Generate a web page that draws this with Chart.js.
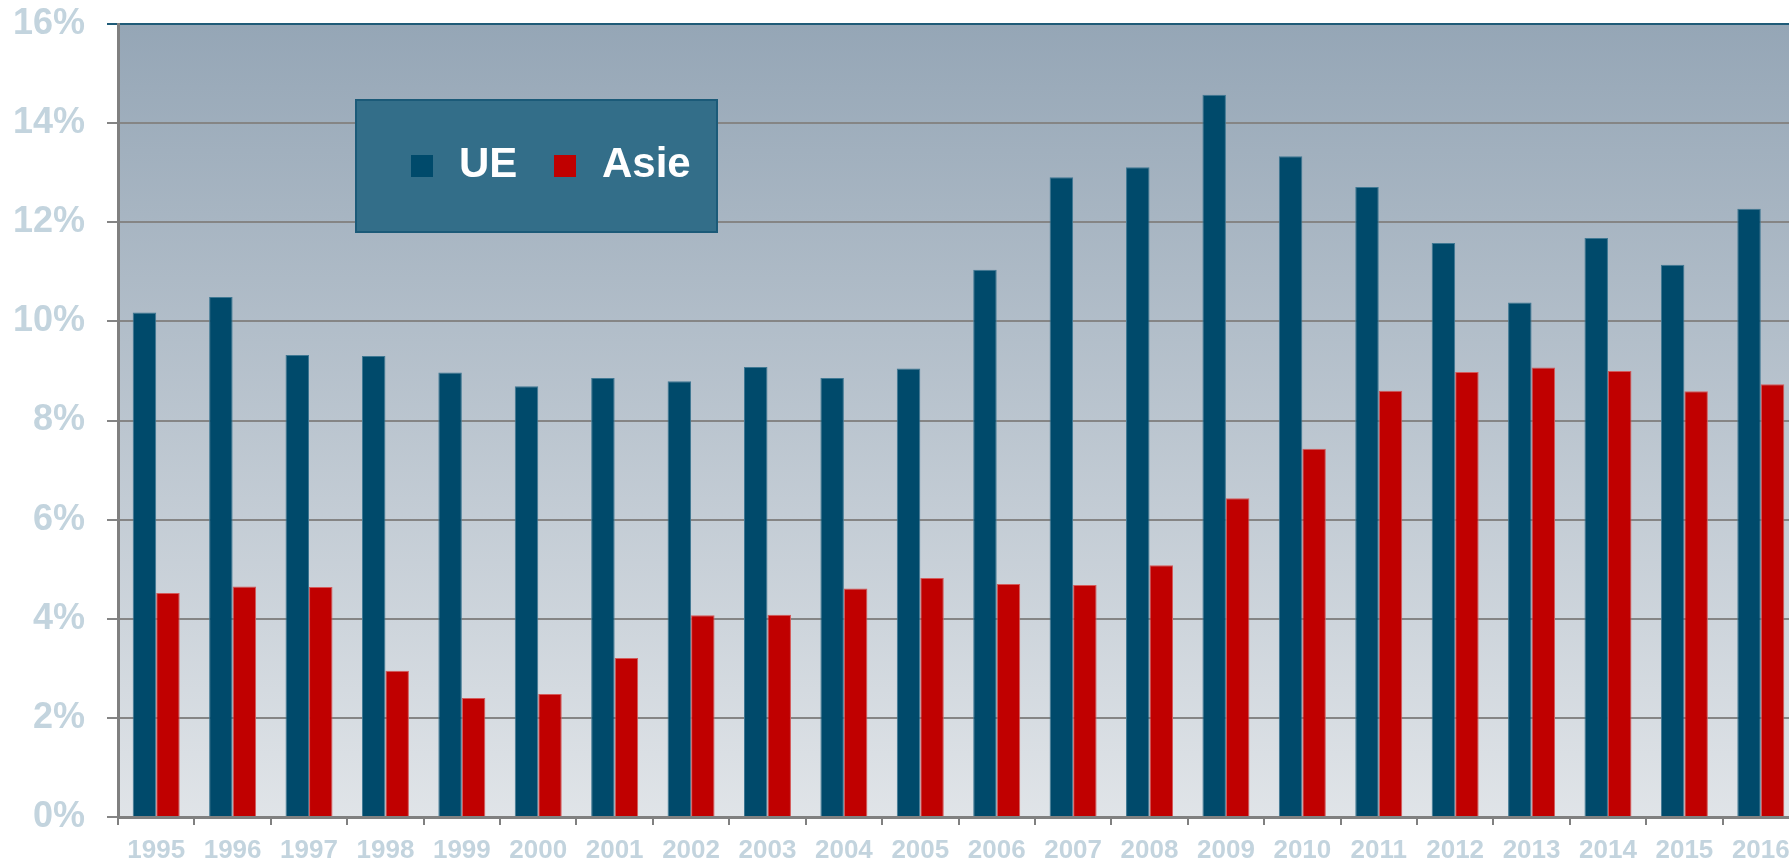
<!DOCTYPE html>
<html>
<head>
<meta charset="utf-8">
<script src="https://cdn.jsdelivr.net/npm/chart.js@4/dist/chart.umd.min.js"></script>
<style>
	html, body { margin: 0; padding: 0; background: #ffffff; overflow: hidden; }
	#wrap { position: relative; width: 1800px; height: 859px; }
</style>
</head>
<body>
<div id="wrap"><canvas id="myChart"></canvas></div>
<script>
// years on the x axis
var years = ["1995", "1996", "1997", "1998", "1999", "2000", "2001", "2002", "2003", "2004", "2005",
	"2006", "2007", "2008", "2009", "2010", "2011", "2012", "2013", "2014", "2015", "2016"];

// values in %
var ueValues = [10.18, 10.49, 9.32, 9.30, 8.97, 8.69, 8.86, 8.79, 9.08, 8.86, 9.05,
	11.04, 12.91, 13.11, 14.57, 13.33, 12.71, 11.58, 10.38, 11.68, 11.14, 12.27];
var asieValues = [4.52, 4.65, 4.64, 2.95, 2.40, 2.48, 3.21, 4.07, 4.08, 4.61, 4.82,
	4.70, 4.68, 5.08, 6.43, 7.43, 8.60, 8.98, 9.07, 9.00, 8.59, 8.73];

var yTicks = [0, 2, 4, 6, 8, 10, 12, 14, 16];

var fontFam = "'Liberation Sans', Arial, sans-serif";
var labelColor = "#c3d4de";

// gradient behind the bars
var plotBg = {
	id: "plotBg",
	beforeDraw: function (chart) {
		var a = chart.chartArea;
		var c = chart.ctx;
		var g = c.createLinearGradient(0, a.top, 0, a.bottom);
		g.addColorStop(0, "#95a6b6");
		g.addColorStop(1, "#e0e4e8");
		c.save();
		c.fillStyle = g;
		c.fillRect(a.left, a.top, a.right - a.left, a.bottom - a.top);
		c.restore();
	},
};

// legend box inside the plot
var boxLegend = {
	id: "boxLegend",
	afterDraw: function (chart) {
		var c = chart.ctx;
		c.save();
		c.fillStyle = "#336e89";
		c.fillRect(356, 100, 361, 132);
		c.strokeStyle = "#1b5a78";
		c.lineWidth = 2;
		c.strokeRect(356, 100, 361, 132);

		var xs = [411, 554];
		c.font = "bold 42px " + fontFam;
		c.textBaseline = "alphabetic";
		chart.data.datasets.forEach(function (ds, i) {
			c.fillStyle = ds.backgroundColor;
			c.fillRect(xs[i], 155, 22, 22);
			c.fillStyle = "#ffffff";
			c.fillText(ds.label, xs[i] + 48, 177);
		});
		c.restore();
	},
};

var ctx = document.getElementById("myChart").getContext("2d");
var myChart = new Chart(ctx, {
	type: "bar",
	data: {
		labels: years,
		datasets: [
			{
				label: "UE",
				data: ueValues,
				backgroundColor: "#004a6b",
				borderColor: "#3f7893",
				borderWidth: 1,
			},
			{
				label: "Asie",
				data: asieValues,
				backgroundColor: "#c00000",
				borderColor: "#d45a5a",
				borderWidth: 1,
			},
		],
	},
	plugins: [plotBg, boxLegend],
	options: {
		responsive: true,
		maintainAspectRatio: false,
		animation: false,
		devicePixelRatio: 1,
		layout: { padding: { top: 24, right: 1, left: 0, bottom: 0 } },
		datasets: { bar: { categoryPercentage: 0.615, barPercentage: 1.0 } },
		plugins: {
			legend: { display: false },
			tooltip: { enabled: false },
		},
		scales: {
			x: {
				offset: true,
				grid: {
					offset: true,
					drawOnChartArea: false,
					drawTicks: true,
					tickLength: 8,
					color: "#808080",
					lineWidth: 2,
				},
				border: { color: "#808080", width: 3 },
				ticks: {
					color: labelColor,
					padding: 10,
					maxRotation: 0,
					autoSkip: false,
					font: { family: fontFam, size: 26, weight: "bold" },
				},
				afterFit: function (scale) {
					scale.height = 42;
				},
			},
			y: {
				min: 0,
				max: 16,
				afterBuildTicks: function (scale) {
					scale.ticks = yTicks.map(function (v) { return { value: v }; });
				},
				grid: {
					color: function (c) {
						return c.tick && c.tick.value === 16 ? "#1f5b78" : "#858585";
					},
					lineWidth: 2,
					tickLength: 11,
				},
				border: { color: "#808080", width: 3 },
				ticks: {
					color: labelColor,
					padding: 22,
					font: { family: fontFam, size: 36, weight: "bold" },
					callback: function (v) { return v + "%"; },
				},
				afterFit: function (scale) {
					scale.width = 118;
					scale.paddingTop = 0;
					scale.paddingBottom = 0;
				},
			},
		},
	},
});
</script>
</body>
</html>
